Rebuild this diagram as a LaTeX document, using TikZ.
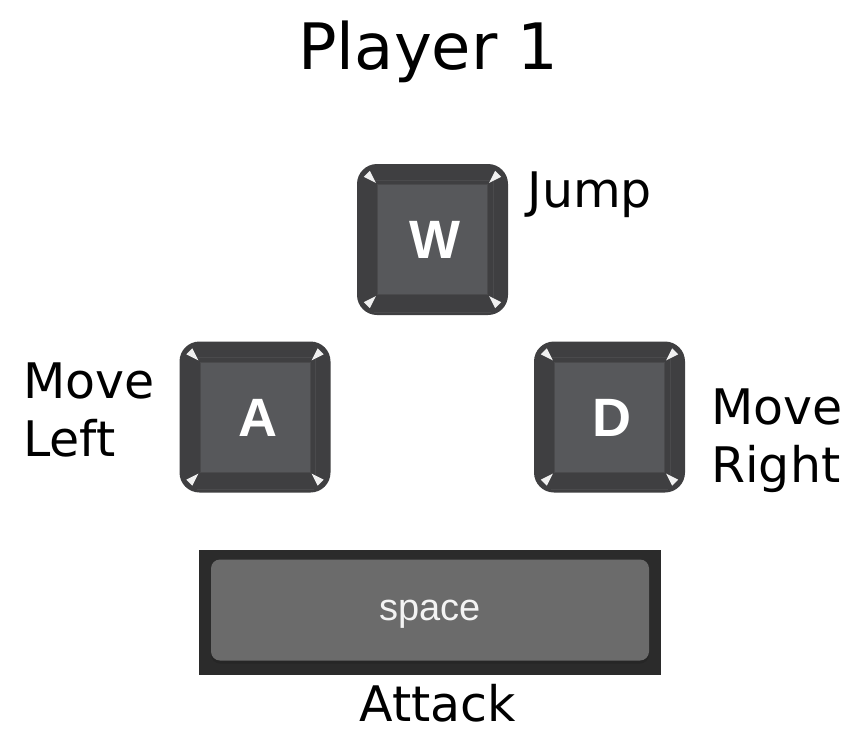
\documentclass[tikz,border=0pt]{standalone}
\usepackage{fontspec}
\setmainfont{DejaVu Sans}
\newfontfamily\keyfont{Liberation Sans}
\usetikzlibrary{calc}
\definecolor{keyrim}{HTML}{3F3F41}
\definecolor{keytop}{HTML}{57585B}
\definecolor{keyline}{HTML}{4A4A4C}
\definecolor{spacerim}{HTML}{2B2B2B}
\definecolor{spacetop}{HTML}{6B6B6B}
\definecolor{spacelip}{HTML}{262626}

\begin{document}
\begin{tikzpicture}[x=1pt,y=-1pt,
        keycap/.style={fill=keyrim,rounded corners=20pt,minimum size=151pt,inner sep=0pt},
        keyface/.style={fill=keytop,draw=keyline,line width=1pt,minimum size=110pt,inner sep=0pt},
        keychar/.style={text=white,inner sep=0pt,font=\keyfont\bfseries\fontsize{54}{54}\selectfont},
        notch/.style={fill=white!92!keyrim},
        lbl/.style={font=\fontsize{49}{58}\selectfont,align=left,inner sep=0pt}]
      \useasboundingbox (0,0) rectangle (864,748);
      \node[font=\fontsize{64}{64}\selectfont,inner sep=0pt,anchor=base] (title) at (428.5,69) {Player 1};
      % the three letter keys
      \foreach \nm/\cx/\cy/\ch in {keyw/432.5/239.5/W,keya/255/417/A,keyd/609.5/417/D}{
        \node[keycap] (\nm) at (\cx,\cy) {};
        \node[keyface] (\nm face) at (\cx,\cy) {};
        \node[keychar] (\nm char) at ($(\nm)+(2.5,0.5)$) {\ch};
        \draw[keyline,line width=1pt] ($(\nm face.north west)+(-3,-4)$) -- ($(\nm face.north east)+(3,-4)$);
        \draw[keyline,line width=1pt] ($(\nm face.north east)+(5,-3)$) -- ($(\nm face.south east)+(5,3)$);
        \draw[keyline,line width=1pt] ($(\nm face.south west)+(-3,17)$) -- ($(\nm face.south east)+(3,17)$);
        \foreach \sx/\sy/\cn in {1/1/north west,-1/1/north east,1/-1/south west,-1/-1/south east}
          \fill[notch] ($(\nm.\cn)+(\sx*7,\sy*13)$) -- ($(\nm.\cn)+(\sx*13,\sy*7)$)
            -- ($(\nm.\cn)+(\sx*19,\sy*19)$) -- cycle;
      }
      % space bar
      \node[fill=spacerim,minimum width=462pt,minimum height=125pt,inner sep=0pt] (spacebar) at (430,612.5) {};
      \node[fill=spacelip,rounded corners=9pt,minimum width=438pt,minimum height=103pt,inner sep=0pt] (spacelow) at (430,612) {};
      \node[fill=spacetop,rounded corners=9pt,minimum width=438pt,minimum height=101pt,inner sep=0pt] (spacetop) at (430,610) {};
      \node[text=white!92!spacetop,inner sep=0pt,font=\keyfont\fontsize{38}{38}\selectfont] (spacetext) at (430,614) {space};
      % labels
      \node[lbl,anchor=base west] (jump) at (527.5,207) {Jump};
      \node[lbl,anchor=north west] (left) at (23,363) {Move\\Left};
      \node[lbl,anchor=north west] (right) at (711,389) {Move\\Right};
      \node[lbl,anchor=base] (attack) at (438,721) {Attack};
    \end{tikzpicture}
\end{document}
